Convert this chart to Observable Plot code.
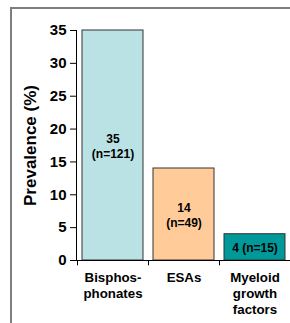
<!DOCTYPE html>
<html><head><meta charset="utf-8">
<script src="https://cdn.jsdelivr.net/npm/d3@7"></script>
<script src="https://cdn.jsdelivr.net/npm/@observablehq/plot@0.6"></script>
<style>
body{margin:0;background:#fff;font-family:"Liberation Sans",Arial,sans-serif;}
#wrap{position:relative;width:290px;height:323px;overflow:hidden;}
#border{position:absolute;left:10px;top:7px;width:300px;height:330px;border-top:2px solid #7f7f7f;border-left:2px solid #7f7f7f;box-sizing:border-box;}
#chart{position:absolute;left:0;top:0;}
</style></head>
<body><div id="wrap"><div id="border"></div><div id="chart"></div></div>
<script>
const categories = ["Bisphosphonates", "ESAs", "Myeloid growth factors"];
const tickLabels = ["Bisphos-\nphonates", "ESAs", "Myeloid\ngrowth\nfactors"];
const values = [35, 14, 4];
const counts = [121, 49, 15];
const barLabels = ["35\n(n=121)", "14\n(n=49)", "4 (n=15)"];
const colors = ["#bae1e4", "#ffcc99", "#009999"];
const yTicks = [0, 5, 10, 15, 20, 25, 30, 35];
const yLabel = "Prevalence (%)";

const data = categories.map((c, i) => ({cat: c, value: values[i], n: counts[i], label: barLabels[i], color: colors[i]}));
const tickMap = new Map(categories.map((c, i) => [c, tickLabels[i]]));

const plot = Plot.plot({
  width: 290, height: 323,
  marginLeft: 76, marginRight: 0, marginTop: 30, marginBottom: 63,
  style: {fontFamily: "'Liberation Sans', Arial, sans-serif", background: "transparent"},
  x: {type: "band", domain: categories, padding: 0},
  y: {domain: [0, 35], range: [260, 30]},
  marks: [
    Plot.barY(data, {x: "cat", y: "value", fill: "color", stroke: "#333", strokeWidth: 1, insetLeft: 5, insetRight: 5}),
    Plot.text(data, {x: "cat", y: d => d.value / 2, text: "label", fontSize: 12, fontWeight: "bold", lineHeight: 1.3, lineAnchor: "middle", fill: "#000"}),
    Plot.ruleY([0], {stroke: "#000", strokeWidth: 1}),
    Plot.ruleX(categories, {x: d => d, y1: 0, y2: -0.8, dx: -35.5, stroke: "#000", clip: false}),
    Plot.frame({anchor: "left", stroke: "#000"}),
    Plot.axisY({ticks: yTicks, tickSize: 6, tickPadding: 4, fontSize: 15, fontWeight: "bold", label: null}),
    Plot.text([yLabel], {frameAnchor: "left", textAnchor: "middle", rotate: -90, dx: -46, fontSize: 17, fontWeight: "bold", fill: "#000"}),
    Plot.axisX({tickSize: 0, tickPadding: 10, tickFormat: d => tickMap.get(d), fontSize: 13.3, fontWeight: "bold", lineHeight: 1.22, label: null})
  ]
});
document.getElementById("chart").appendChild(plot);
</script></body></html>
